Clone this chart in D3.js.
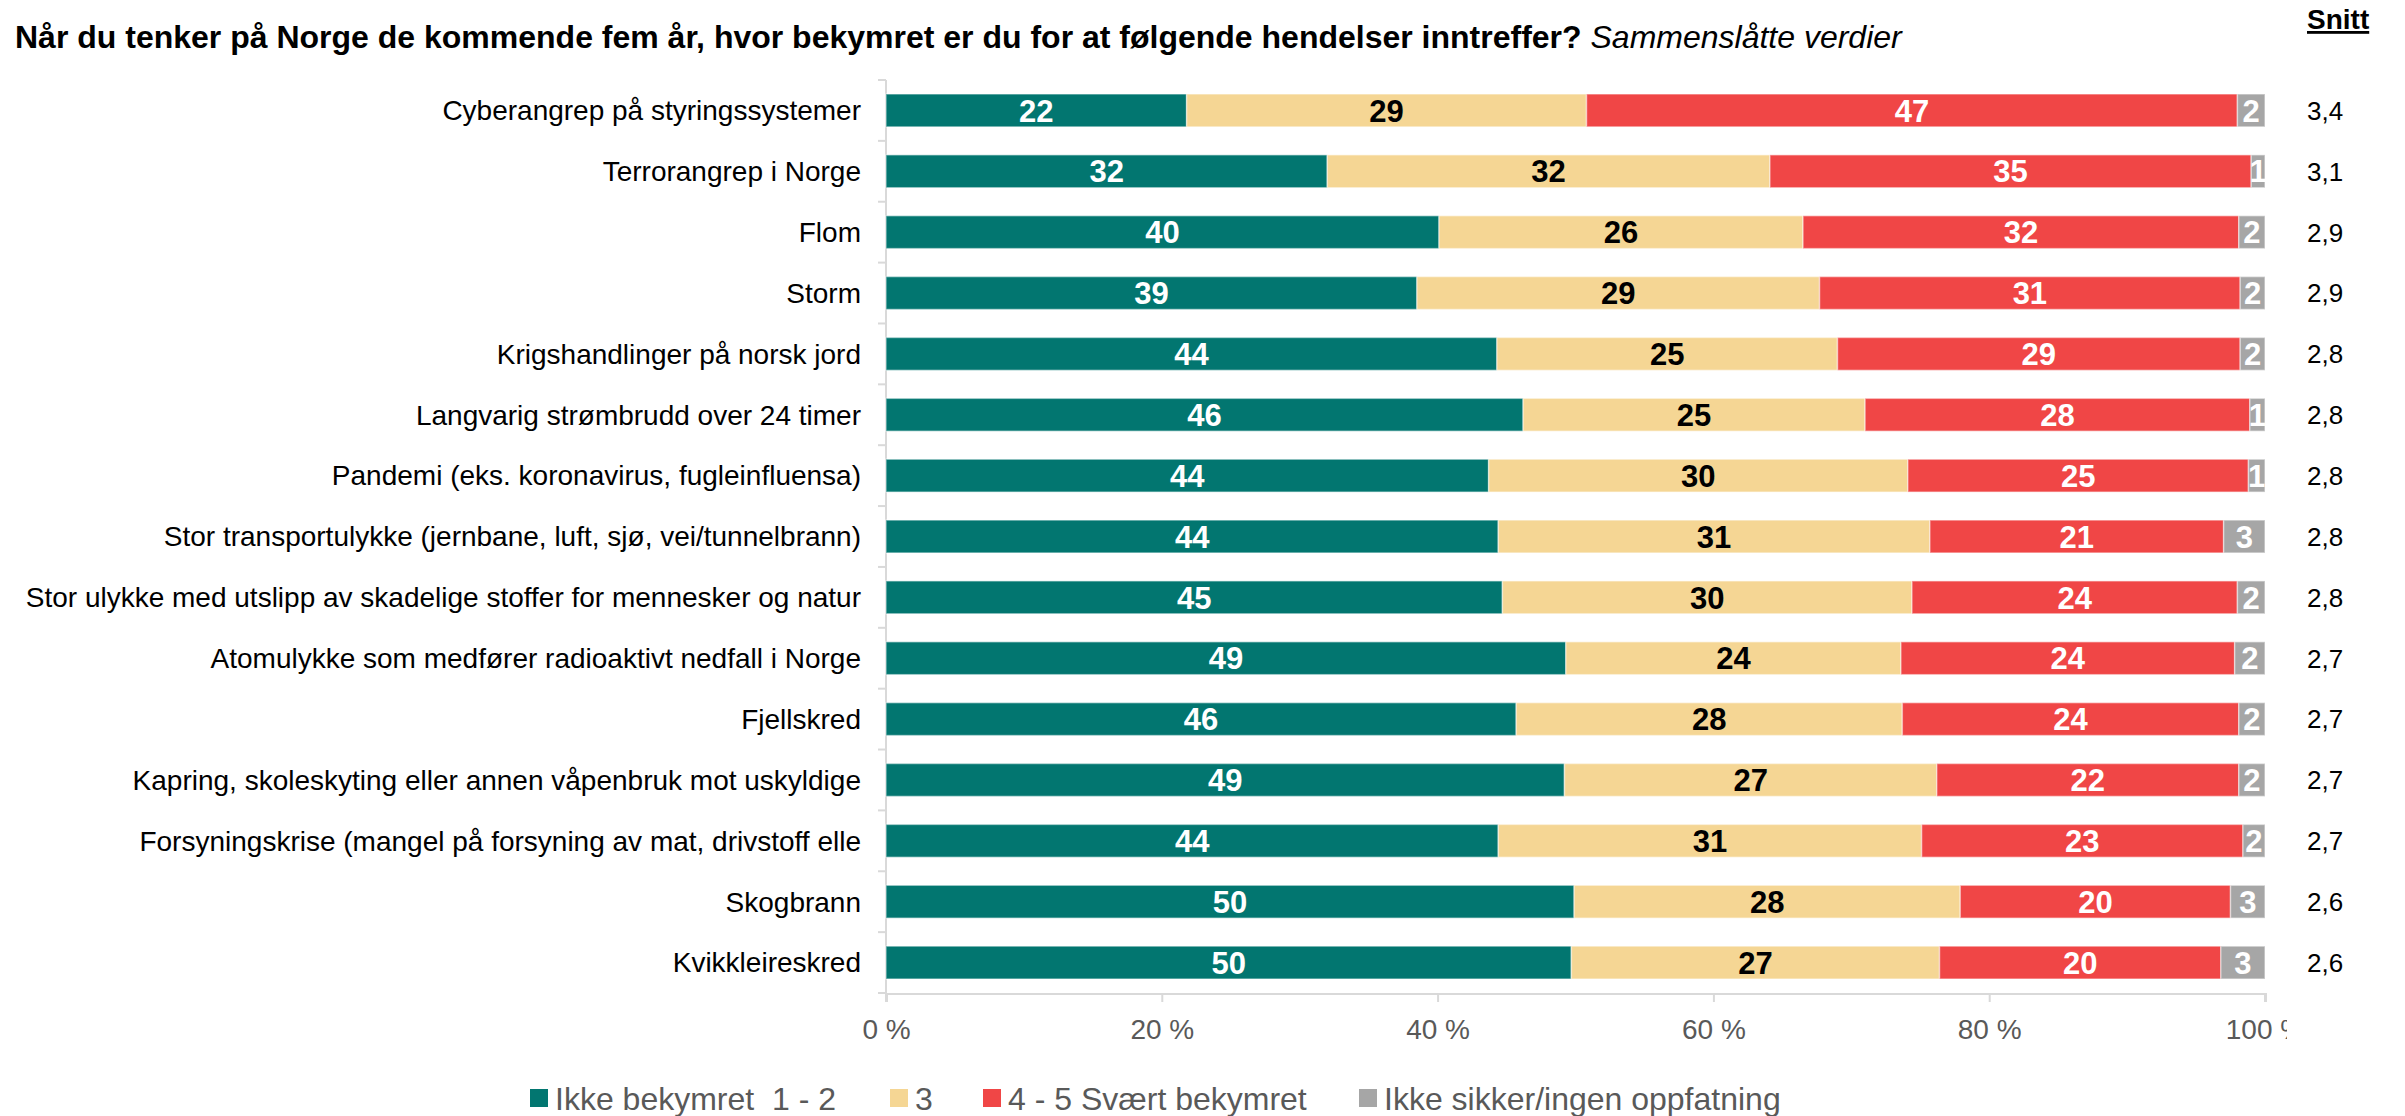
<!DOCTYPE html>
<html>
<head>
<meta charset="utf-8">
<script src="https://cdn.jsdelivr.net/npm/d3@7"></script>
<style>
  body { margin: 0; background: #fff; }
  svg { font-family: "Liberation Sans", Arial, sans-serif; }
</style>
</head>
<body>
<svg id="chart"></svg>
<script>
// categories, top to bottom
var categories = [
  "Cyberangrep på styringssystemer",
  "Terrorangrep i Norge",
  "Flom",
  "Storm",
  "Krigshandlinger på norsk jord",
  "Langvarig strømbrudd over 24 timer",
  "Pandemi (eks. koronavirus, fugleinfluensa)",
  "Stor transportulykke (jernbane, luft, sjø, vei/tunnelbrann)",
  "Stor ulykke med utslipp av skadelige stoffer for mennesker og natur",
  "Atomulykke som medfører radioaktivt nedfall i Norge",
  "Fjellskred",
  "Kapring, skoleskyting eller annen våpenbruk mot uskyldige",
  "Forsyningskrise (mangel på forsyning av mat, drivstoff elle",
  "Skogbrann",
  "Kvikkleireskred"
];

var seriesNames = ["Ikke bekymret  1 - 2", "3", "4 - 5 Svært bekymret", "Ikke sikker/ingen oppfatning"];

// percentages per series
var ikkeBekymret = [21.8, 32.0, 40.1, 38.5, 44.3, 46.2, 43.7, 44.4, 44.7, 49.3, 45.7, 49.2, 44.4, 49.9, 49.7];
var middels      = [29.0, 32.1, 26.4, 29.2, 24.7, 24.8, 30.4, 31.3, 29.7, 24.3, 28.0, 27.0, 30.7, 28.0, 26.7];
var bekymret     = [47.2, 34.9, 31.6, 30.5, 29.2, 27.9, 24.7, 21.3, 23.6, 24.2, 24.4, 21.9, 23.3, 19.6, 20.4];
var ikkeSikker   = [2.0, 1.0, 1.9, 1.8, 1.8, 1.1, 1.2, 3.0, 2.0, 2.2, 1.9, 1.9, 1.6, 2.5, 3.2];

var snitt = ["3,4", "3,1", "2,9", "2,9", "2,8", "2,8", "2,8", "2,8", "2,8", "2,7", "2,7", "2,7", "2,7", "2,6", "2,6"];

var xTicks = [0, 20, 40, 60, 80, 100];

var colors = ["#027670", "#f5d694", "#f04646", "#a6a6a6"];
var labelColors = ["#fff", "#000", "#fff", "#fff"];

var W = 2405, H = 1116;
var svg = d3.select("#chart").attr("width", W).attr("height", H);

// title
var title = svg.append("text").attr("x", 15).attr("y", 48).style("font-size", "32px");
title.append("tspan").style("font-weight", "bold")
  .text("Når du tenker på Norge de kommende fem år, hvor bekymret er du for at følgende hendelser inntreffer?");
title.append("tspan").style("font-style", "italic").text(" Sammenslåtte verdier");

// Snitt header
svg.append("text").attr("x", 2307).attr("y", 29)
  .style("font-size", "28px").style("font-weight", "bold")
  .style("text-decoration", "underline")
  .text("Snitt");

var x = d3.scaleLinear().domain([0, 100]).range([886, 2265]);
var y = d3.scaleBand().domain(categories).range([80, 993]).paddingInner(0.46).paddingOuter(0.23);

// stack the series
var rows = categories.map(function (c, i) {
  return { cat: c, s0: ikkeBekymret[i], s1: middels[i], s2: bekymret[i], s3: ikkeSikker[i] };
});
var stack = d3.stack().keys(["s0", "s1", "s2", "s3"]);
var layers = stack(rows);

var clip = svg.append("defs").append("clipPath").attr("id", "plotclip");
clip.append("rect").attr("x", 0).attr("y", 0).attr("width", 2287).attr("height", H);

// y axis line with ticks at band boundaries
var yAxisG = svg.append("g");
yAxisG.append("line")
  .attr("x1", x(0)).attr("x2", x(0))
  .attr("y1", y.range()[0]).attr("y2", y.range()[1])
  .attr("stroke", "#d9d9d9").attr("stroke-width", 2);
var bounds = categories.map(function (c) { return y(c) - y.step() * y.paddingInner() / 2; });
bounds.push(y.range()[1]);
yAxisG.selectAll(".yt").data(bounds).enter().append("line")
  .attr("x1", x(0) - 8).attr("x2", x(0))
  .attr("y1", function (d) { return d; }).attr("y2", function (d) { return d; })
  .attr("stroke", "#d9d9d9").attr("stroke-width", 2);

// category labels
svg.selectAll(".cat").data(categories).enter().append("text")
  .attr("x", 861)
  .attr("y", function (d) { return y(d) + y.bandwidth() / 2; })
  .attr("dy", "0.35em")
  .attr("text-anchor", "end")
  .style("font-size", "28px")
  .text(function (d) { return d; });

// x axis
var xAxisG = svg.append("g")
  .attr("transform", "translate(0," + y.range()[1] + ")")
  .attr("clip-path", "url(#plotclip)")
  .call(d3.axisBottom(x).tickValues(xTicks).tickSize(9).tickFormat(function (d) { return d + " %"; }));
xAxisG.select(".domain").attr("stroke", "#d9d9d9").attr("stroke-width", 3);
xAxisG.selectAll(".tick line").attr("stroke", "#d9d9d9").attr("stroke-width", 2);
xAxisG.selectAll(".tick text")
  .attr("y", 46).attr("dy", 0)
  .style("font-size", "28px").style("font-family", "'Liberation Sans', Arial, sans-serif")
  .attr("fill", "#595959");

// bars
var barG = svg.append("g");
layers.forEach(function (layer, k) {
  var g = barG.append("g");
  g.selectAll("rect").data(layer).enter().append("rect")
    .attr("x", function (d) { return x(d[0]); })
    .attr("y", function (d) { return y(d.data.cat); })
    .attr("width", function (d) { return x(d[1]) - x(d[0]); })
    .attr("height", y.bandwidth())
    .attr("fill", colors[k])
    .attr("stroke", "#fff").attr("stroke-opacity", 0.45).attr("stroke-width", 1.5);
  g.selectAll("text").data(layer).enter().append("text")
    .attr("x", function (d) { return (x(d[0]) + x(d[1])) / 2; })
    .attr("y", function (d) { return y(d.data.cat) + y.bandwidth() / 2; })
    .attr("dy", "0.36em")
    .attr("text-anchor", "middle")
    .attr("fill", labelColors[k])
    .style("font-size", "31px").style("font-weight", "bold")
    .text(function (d) { return Math.round(d[1] - d[0]); });
});

// snitt values
svg.selectAll(".snitt").data(snitt).enter().append("text")
  .attr("x", 2307)
  .attr("y", function (d, i) { return y(categories[i]) + y.bandwidth() / 2; })
  .attr("dy", "0.36em")
  .style("font-size", "26px")
  .text(function (d) { return d; });

// legend
var legendX = [530, 890, 983, 1359];
var legend = svg.append("g");
seriesNames.forEach(function (name, k) {
  legend.append("rect").attr("x", legendX[k]).attr("y", 1089).attr("width", 18).attr("height", 18).attr("fill", colors[k]);
  legend.append("text").attr("x", legendX[k] + 25).attr("y", 1098).attr("dy", "0.36em")
    .attr("fill", "#595959").style("font-size", "32px").style("white-space", "pre")
    .text(name);
});
</script>
</body>
</html>
